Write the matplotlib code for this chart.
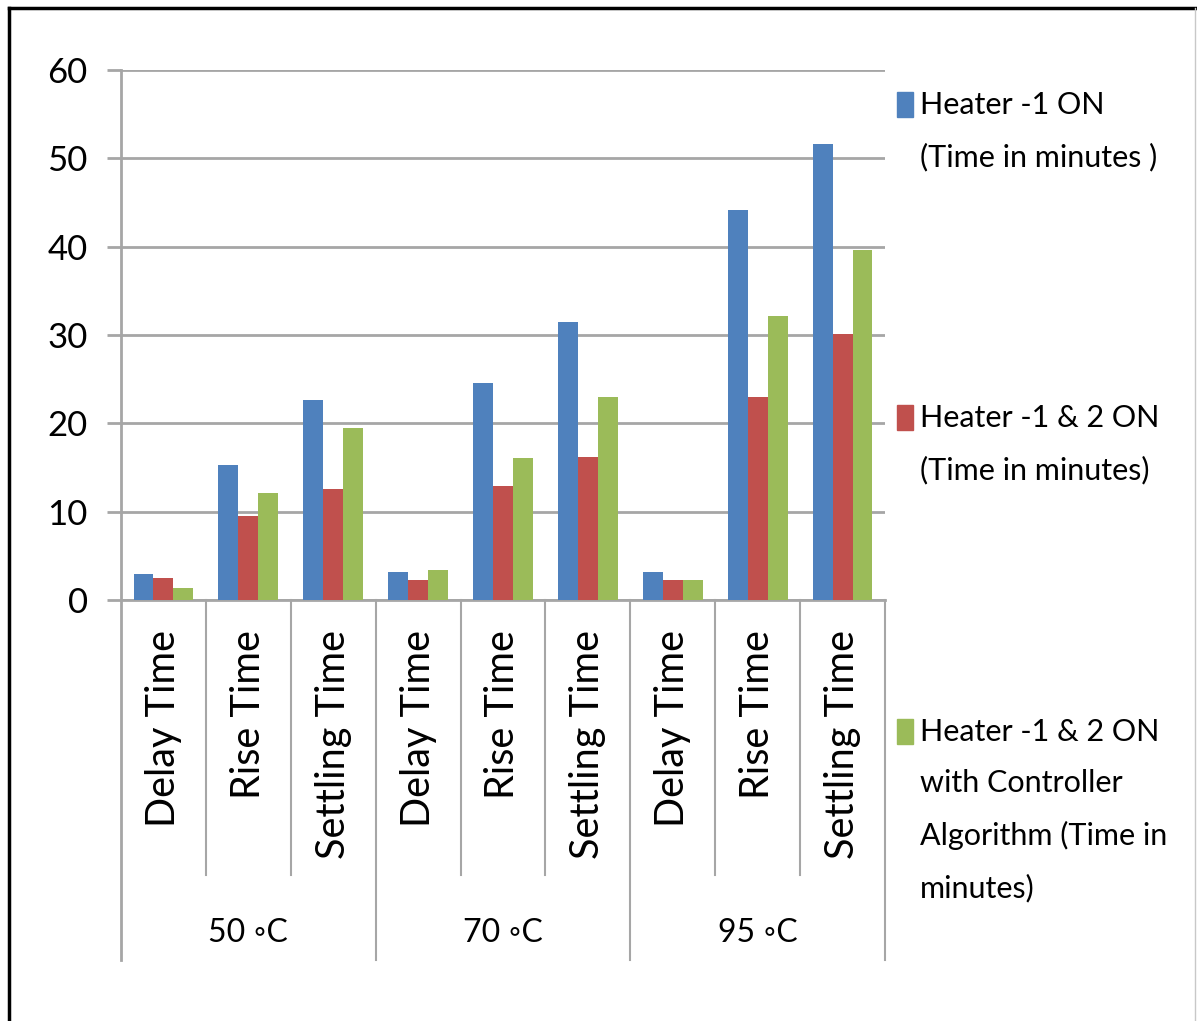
import matplotlib
matplotlib.use("Agg")
import matplotlib.pyplot as plt
import matplotlib.transforms as mtransforms
from matplotlib.lines import Line2D
from matplotlib.patches import Rectangle
import numpy as np

plt.rcParams['font.family'] = ['Lato', 'DejaVu Sans']

groups = ["50 \u25e6C", "70 \u25e6C", "95 \u25e6C"]
metrics = ["Delay Time", "Rise Time", "Settling Time"]
series_names = [
    "Heater -1 ON\n(Time in minutes )",
    "Heater -1 & 2 ON\n(Time in minutes)",
    "Heater -1 & 2 ON\nwith Controller\nAlgorithm (Time in\nminutes)",
]
heater1 = [2.9, 15.3, 22.6, 3.2, 24.6, 31.5, 3.2, 44.2, 51.6]
heater12 = [2.5, 9.5, 12.6, 2.3, 12.9, 16.2, 2.3, 23.0, 30.1]
heater12_ctrl = [1.4, 12.1, 19.5, 3.4, 16.1, 23.0, 2.3, 32.2, 39.6]
colors = ["#4F81BD", "#C0504D", "#9BBB59"]
yticks = [0, 10, 20, 30, 40, 50, 60]

W, H = 1197, 1021
fig = plt.figure(figsize=(W / 100, H / 100), dpi=100)
fig.patch.set_facecolor("white")

def fx(px):
    return px / W

def fy(py):
    return 1 - py / H

ax_left, ax_right, ax_top, ax_bot = 121, 885, 70, 600
ax = fig.add_axes([fx(ax_left), fy(ax_bot), fx(ax_right - ax_left), (ax_bot - ax_top) / H])

n = len(heater1)
x = np.arange(n)
bw = 0.235
data = [heater1, heater12, heater12_ctrl]
for i, (vals, c) in enumerate(zip(data, colors)):
    ax.bar(x + (i - 1) * bw, vals, width=bw, color=c, zorder=3, linewidth=0)

ax.set_xlim(-0.5, n - 0.5)
ax.set_ylim(0, 60)
ax.set_yticks(yticks)
ax.set_yticklabels([str(v) for v in yticks], fontsize=25)
ax.tick_params(axis='y', length=10, width=2, color="#A6A6A6", pad=14)
ax.set_xticks([])
ax.grid(axis='y', color="#A6A6A6", linewidth=2, zorder=0)
for s in ["top", "right"]:
    ax.spines[s].set_visible(False)
ax.spines["bottom"].set_color("#A6A6A6")
ax.spines["bottom"].set_linewidth(2)
ax.spines["left"].set_visible(False)

trans = mtransforms.blended_transform_factory(ax.transData, ax.transAxes)
ah = ax_bot - ax_top
y_long = -(960 - ax_bot) / ah
y_short = -(875 - ax_bot) / ah
# y axis line extending down through category area
ax.plot([-0.5, -0.5], [1.0, y_long], transform=trans, color="#A6A6A6",
        lw=2, clip_on=False, zorder=4)
for k in range(1, n + 1):
    xb = k - 0.5
    yend = y_long if k % 3 == 0 else y_short
    ax.plot([xb, xb], [0, yend], transform=trans, color="#A6A6A6", lw=1.5,
            clip_on=False)

# category labels
y_lab = -(630 - ax_bot) / ah
for k in range(n):
    ax.text(k, y_lab, metrics[k % 3], transform=trans, rotation=90,
            ha='center', va='top', fontsize=28.5)

# group labels
y_grp = -(933 - ax_bot) / ah
for g, name in enumerate(groups):
    ax.text(g * 3 + 1, y_grp, name, transform=trans, ha='center', va='center',
            fontsize=23)

# legend
leg_y = [104, 417, 731]
for name, c, yy in zip(series_names, colors, leg_y):
    fig.patches.append(Rectangle((fx(897), fy(yy + 13)), fx(16), 25 / H,
                                 transform=fig.transFigure, color=c))
    fig.text(fx(920), fy(yy - 13), name, ha='left', va='top', fontsize=22,
             linespacing=2.0)

# figure border
fig.add_artist(Line2D([fx(9), fx(9)], [fy(8), 0], transform=fig.transFigure,
                      color="black", lw=2.5))
fig.add_artist(Line2D([fx(9), fx(1195)], [fy(8), fy(8)], transform=fig.transFigure,
                      color="black", lw=2.5))
fig.add_artist(Line2D([fx(1195), fx(1195)], [fy(8), 0], transform=fig.transFigure,
                      color="#C8C8C8", lw=1))

fig.savefig("out.png", dpi=100)
